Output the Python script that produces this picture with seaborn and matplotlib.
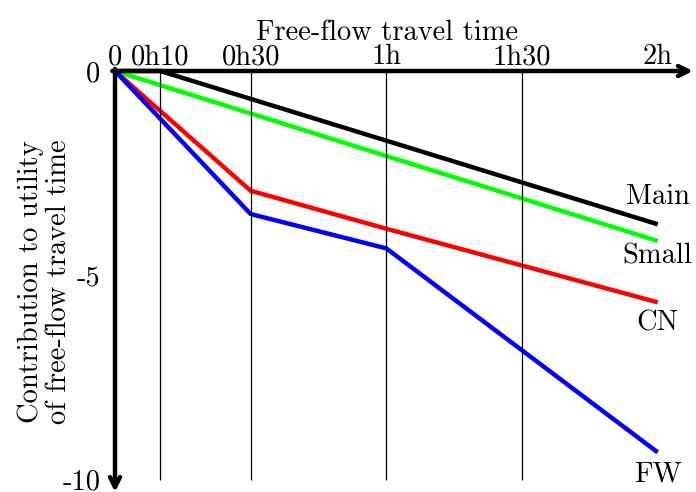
import matplotlib
matplotlib.use("Agg")
import matplotlib.pyplot as plt
import seaborn as sns
import pandas as pd

# ---- data (hours, contribution to utility) ----
main_x = [0, 1/6, 2]
main_y = [0, 0, -3.75]
small_x = [0, 2]
small_y = [0, -4.16]
cn_x = [0, 0.5, 1, 2]
cn_y = [0, -2.93, -3.86, -5.66]
fw_x = [0, 0.5, 1, 2]
fw_y = [0, -3.5, -4.34, -9.33]

series_names = ["Main", "Small", "CN", "FW"]
tick_pos = [0, 1/6, 0.5, 1, 1.5, 2]
tick_labels = ["0", "0h10", "0h30", "1h", "1h30", "2h"]
grid_pos = [1/6, 0.5, 1, 1.5]
ytick_pos = [0, -5, -10]
ytick_labels = ["0", "-5", "-10"]

rows = []
for name, xs, ys in [("Main", main_x, main_y), ("Small", small_x, small_y),
                     ("CN", cn_x, cn_y), ("FW", fw_x, fw_y)]:
    for i, (x, y) in enumerate(zip(xs, ys)):
        rows.append({"series": name, "t": x, "u": y, "order": i})
df = pd.DataFrame(rows)

sns.set_theme(style="white")
plt.rcParams["font.family"] = ["cmr10", "DejaVu Serif"]
plt.rcParams["mathtext.fontset"] = "cm"
plt.rcParams["axes.unicode_minus"] = False
plt.rcParams["axes.formatter.use_mathtext"] = True
plt.rcParams["text.color"] = "black"
plt.rcParams["axes.labelcolor"] = "black"
plt.rcParams["xtick.color"] = "black"
plt.rcParams["ytick.color"] = "black"

FS = 20.5
palette = {"Main": "black", "Small": "#00ff00", "CN": "#ff0000", "FW": "#0000ff"}

fig = plt.figure(figsize=(6.96, 4.92), dpi=100)
ax = fig.add_axes([115/696, 0.0, 578/696, 1 - 71/492])
ax.set_xlim(0, 2.13)
ax.set_ylim(-10.3, 0)

ax.vlines(grid_pos, -10, 0, color="black", lw=0.9, zorder=3)

sns.lineplot(data=df, x="t", y="u", hue="series", palette=palette,
             hue_order=series_names, sort=False, estimator=None,
             units="series", lw=3.2, legend=False, ax=ax, zorder=2)
for l in ax.lines:
    l.set_clip_on(False)
    l.set_solid_joinstyle("miter")
    l.set_solid_capstyle("butt")

for s in ax.spines.values():
    s.set_visible(False)

# axes arrows
ax.annotate("", xy=(2.13, 0), xytext=(-0.01, 0), xycoords="data",
            arrowprops=dict(arrowstyle="->", lw=3.2, color="black",
                            shrinkA=0, shrinkB=0, mutation_scale=18),
            annotation_clip=False, zorder=5)
ax.annotate("", xy=(0, -10.3), xytext=(0, 0.05), xycoords="data",
            arrowprops=dict(arrowstyle="->", lw=3.2, color="black",
                            shrinkA=0, shrinkB=0, mutation_scale=18),
            annotation_clip=False, zorder=5)

ax.xaxis.tick_top()
ax.set_xticks(tick_pos)
ax.set_xticklabels(tick_labels, fontsize=FS, color="black")
ax.set_yticks(ytick_pos)
ax.set_yticklabels(ytick_labels, fontsize=FS, color="black")
ax.tick_params(axis="x", length=0, pad=0.5, top=True, bottom=False,
               labeltop=True, labelbottom=False)
ax.tick_params(axis="y", length=0, pad=10.5)

ax.set_xlabel("Free-flow travel time", fontsize=FS, color="black")
ax.xaxis.set_label_position("top")
ax.xaxis.set_label_coords(272/578, 1 + (71 - 40)/421)
ax.set_ylabel("Contribution to utility\nof free-flow travel time",
              fontsize=FS, linespacing=1.1, color="black")
ax.yaxis.set_label_coords(-43/578, 0.5)

ends = {"Main": main_y[-1], "Small": small_y[-1], "CN": cn_y[-1], "FW": fw_y[-1]}
offsets = {"Main": 14.4, "Small": -16.5, "CN": -20.6, "FW": -21.0}
for name in series_names:
    ax.annotate(name, xy=(2, ends[name]), xytext=(0, offsets[name]),
                textcoords="offset points", ha="center", va="baseline",
                fontsize=FS, color="black", annotation_clip=False)

fig.savefig("out.png", dpi=100)
